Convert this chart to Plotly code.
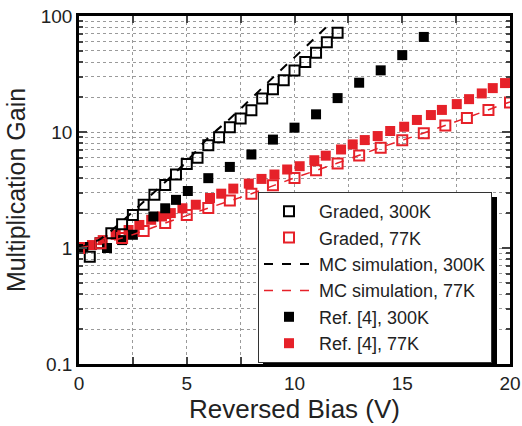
import plotly.graph_objects as go

# ---- data ----
graded_300K_x = [0.5, 1.0, 1.5, 2.0, 2.5, 3.0, 3.5, 4.0, 4.5, 5.0, 5.5, 6.0, 6.5, 7.0, 7.5,
                 8.0, 8.5, 9.0, 9.5, 10.0, 10.5, 11.0, 11.5, 12.0]
graded_300K_y = [0.84, 1.1, 1.34, 1.6, 1.93, 2.36, 2.88, 3.5, 4.3, 5.3, 6.0, 7.7, 9.0, 11.0, 13.1,
                 15.4, 19.4, 23.4, 28.0, 33.9, 40.2, 48.3, 59.4, 71.6]

graded_77K_x = [0, 1, 2, 3, 4, 5, 6, 7, 8, 9, 10, 11, 12, 13, 14, 15, 16, 17, 18, 19, 20]
graded_77K_y = [1.0, 1.1, 1.22, 1.4, 1.64, 1.93, 2.21, 2.57, 2.94, 3.47, 4.02, 4.68, 5.35, 6.28,
                7.32, 8.47, 9.75, 11.4, 13.2, 15.5, 18.0]

mc_300K_x = [0, 1, 2, 3, 4, 5, 6, 7, 8, 9, 10, 11, 11.8]
mc_300K_y = [1.0, 1.2, 1.7, 2.5, 3.7, 5.6, 8.9, 13.0, 19.5, 29.5, 44.0, 66.0, 92.0]

mc_77K_x = [0, 2, 4, 6, 8, 10, 12, 14, 16, 18, 20]
mc_77K_y = [1.0, 1.22, 1.64, 2.21, 2.94, 4.02, 5.4, 7.35, 9.8, 13.3, 18.2]

ref_300K_x = [0.2, 1.3, 2.0, 2.5, 3.45, 4.0, 4.5, 5.05, 6.0, 7.0, 8.0, 9.0, 10.0, 11.0, 12.0,
              13.0, 14.0, 15.0, 16.0]
ref_300K_y = [1.02, 1.0, 1.17, 1.3, 1.87, 2.2, 2.6, 3.1, 4.0, 5.0, 6.4, 8.6, 10.9, 14.2, 19.6,
              26.6, 34.0, 46.0, 66.0]

ref_77K_x = [0.05, 0.6, 1.1, 1.7, 2.3, 2.8, 3.35, 3.85, 4.26, 4.8, 5.42, 6.08, 6.6, 7.16, 7.88,
             8.47, 9.07, 9.66, 10.24, 10.92, 11.45, 12.16, 12.7, 13.26, 13.86, 14.44, 15.09,
             15.68, 16.33, 16.84, 17.53, 18.1, 18.69, 19.2, 19.77]
ref_77K_y = [1.0, 1.06, 1.17, 1.3, 1.43, 1.58, 1.75, 1.87, 2.0, 2.2, 2.36, 2.70, 2.94, 3.25, 3.59,
             3.94, 4.30, 4.75, 5.07, 5.71, 6.25, 7.07, 7.82, 8.52, 9.23, 10.2, 11.1,
             12.7, 14.0, 15.5, 17.4, 19.2, 21.5, 23.9, 26.4]

x_ticks = [0, 5, 10, 15, 20]
y_ticks = [0.1, 1, 10, 100]
y_ticktext = ["0.1", "1", "10", "100"]

RED = "#e62129"
FONT = "Liberation Sans, Arial, sans-serif"

fig = go.Figure()

fig.add_trace(go.Scatter(x=ref_77K_x, y=ref_77K_y, mode="markers", name="Ref. [4], 77K",
                         marker=dict(symbol="square", size=10, color=RED), showlegend=False))
fig.add_trace(go.Scatter(x=ref_300K_x, y=ref_300K_y, mode="markers", name="Ref. [4], 300K",
                         marker=dict(symbol="square", size=10, color="black"), showlegend=False))

fig.add_trace(go.Scatter(x=graded_300K_x, y=graded_300K_y, mode="markers", name="Graded, 300K",
                         marker=dict(symbol="square-open", size=10, color="black",
                                     line=dict(width=2, color="black"))))
fig.add_trace(go.Scatter(x=graded_77K_x, y=graded_77K_y, mode="markers", name="Graded, 77K",
                         marker=dict(symbol="square-open", size=10, color=RED,
                                     line=dict(width=2, color=RED))))
fig.add_trace(go.Scatter(x=mc_300K_x, y=mc_300K_y, mode="lines", name="MC simulation, 300K",
                         line=dict(color="black", width=2, dash="dash", shape="spline")))
fig.add_trace(go.Scatter(x=mc_77K_x, y=mc_77K_y, mode="lines", name="MC simulation, 77K",
                         line=dict(color=RED, width=1.5, dash="dash", shape="spline")))
# legend-only copies to keep legend order
fig.add_trace(go.Scatter(x=[None], y=[None], mode="markers", name="Ref. [4], 300K",
                         marker=dict(symbol="square", size=10, color="black")))
fig.add_trace(go.Scatter(x=[None], y=[None], mode="markers", name="Ref. [4], 77K",
                         marker=dict(symbol="square", size=10, color=RED)))

W, H = 522, 426
L, R, T, B = 79, 12, 16, 62
pw, ph = W - L - R, H - T - B


def px2paper(px, py):
    return (px - L) / pw, (H - B - py) / ph


# legend shadow (offset down/right of the legend box)
sx0, sy0 = px2paper(263, 197)
sx1, sy1 = px2paper(497, 364)
fig.add_shape(type="rect", xref="paper", yref="paper", x0=sx0, y0=sy1, x1=sx1, y1=sy0,
              fillcolor="black", line=dict(width=0), layer="above")

lx, ly = px2paper(258, 192)

grid = dict(gridcolor="#9a9a9a", griddash="dot", gridwidth=1)

fig.update_layout(
    width=W, height=H,
    margin=dict(l=L, r=R, t=T, b=B, autoexpand=False),
    paper_bgcolor="white", plot_bgcolor="white",
    font=dict(family=FONT, color="#222"),
    showlegend=True,
    legend=dict(x=lx, y=ly, xanchor="left", yanchor="top", bgcolor="white",
                bordercolor="#333", borderwidth=1, font=dict(size=18, family=FONT, color="#222"),
                tracegroupgap=0, itemwidth=50),
    xaxis=dict(range=[0, 20], tickvals=x_ticks, ticks="inside", ticklen=7, tickwidth=1.5,
               showline=True, linewidth=2.5, linecolor="black", mirror="ticks",
               tickfont=dict(size=19), showgrid=True, zeroline=False, automargin=False,
               title=dict(text="Reversed Bias (V)", font=dict(size=26), standoff=6),
               minor=dict(dtick=2.5, ticks="inside", ticklen=7, showgrid=True, **grid),
               **grid),
    yaxis=dict(type="log", range=[-1, 2], tickvals=y_ticks, ticktext=y_ticktext,
               ticks="inside", ticklen=8, tickwidth=1.5,
               showline=True, linewidth=2.5, linecolor="black", mirror="ticks",
               tickfont=dict(size=19), showgrid=True, zeroline=False, automargin=False,
               title=dict(text="Multiplication Gain", font=dict(size=25), standoff=8),
               minor=dict(dtick="D1", ticks="inside", ticklen=4, showgrid=True, **grid),
               **grid),
)

fig.write_html("out.html")
